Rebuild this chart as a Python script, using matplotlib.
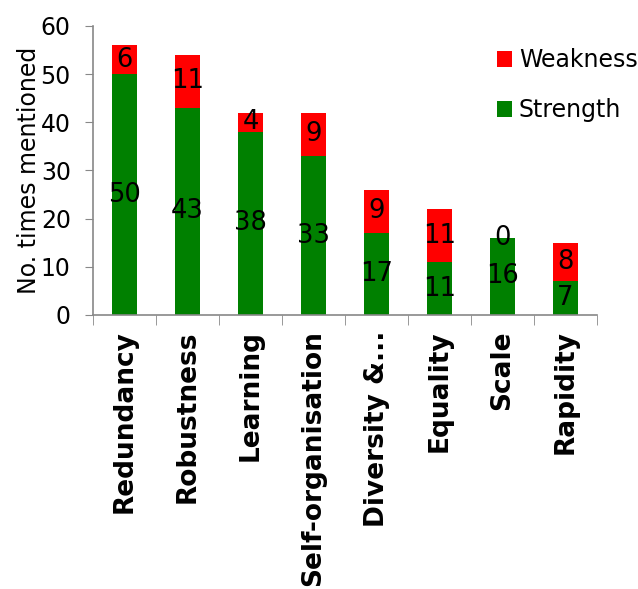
import matplotlib
matplotlib.use('Agg')
import matplotlib.pyplot as plt
import numpy as np

# Mentions per resilience property
categories = ['Redundancy', 'Robustness', 'Learning', 'Self-organisation',
              'Diversity &...', 'Equality', 'Scale', 'Rapidity']
strength = [50, 43, 38, 33, 17, 11, 16, 7]
weakness = [6, 11, 4, 9, 9, 11, 0, 8]

fig = plt.figure(figsize=(6.38, 5.89), dpi=100)
ax = fig.add_axes([0.1458, 0.4652, 0.79, 0.4907])

x = np.arange(len(categories))
width = 0.4
b1 = ax.bar(x, strength, width, color='#008000', label='Strength')
b2 = ax.bar(x, weakness, width, bottom=strength, color='#FF0000', label='Weakness')

# value labels centred in each segment
for vals, base in ((strength, [0] * len(strength)), (weakness, strength)):
    for xi, v, b in zip(x, vals, base):
        ax.text(xi, b + v / 2, str(v), ha='center', va='center',
                fontsize=18.5, color='black')

ax.set_xlim(-0.5, len(categories) - 0.5)
ax.set_ylim(0, 60)
ax.set_yticks(range(0, 61, 10))
ax.tick_params(axis='y', labelsize=17, length=6, color='#888888', pad=10)

# category labels at centres, tick marks at category boundaries
ax.set_xticks(x)
ax.set_xticklabels(categories, rotation=90, fontsize=19, fontweight='bold')
ax.tick_params(axis='x', which='major', length=0, pad=11)
ax.set_xticks(np.arange(-0.5, len(categories)), minor=True)
ax.tick_params(axis='x', which='minor', length=7, color='#888888')

for side in ('top', 'right'):
    ax.spines[side].set_visible(False)
for side in ('left', 'bottom'):
    ax.spines[side].set_color('#888888')
    ax.spines[side].set_linewidth(1.2)

ax.set_ylabel('No. times mentioned', fontsize=17, labelpad=0)

handles, labels = ax.get_legend_handles_labels()
ax.legend(handles[::-1], labels[::-1], loc='upper left', bbox_to_anchor=(0.783, 0.955),
          frameon=False, fontsize=17, handlelength=0.62, handleheight=0.62,
          handletextpad=0.3, labelspacing=1.1, borderaxespad=0)

fig.savefig('out.png', dpi=100)
